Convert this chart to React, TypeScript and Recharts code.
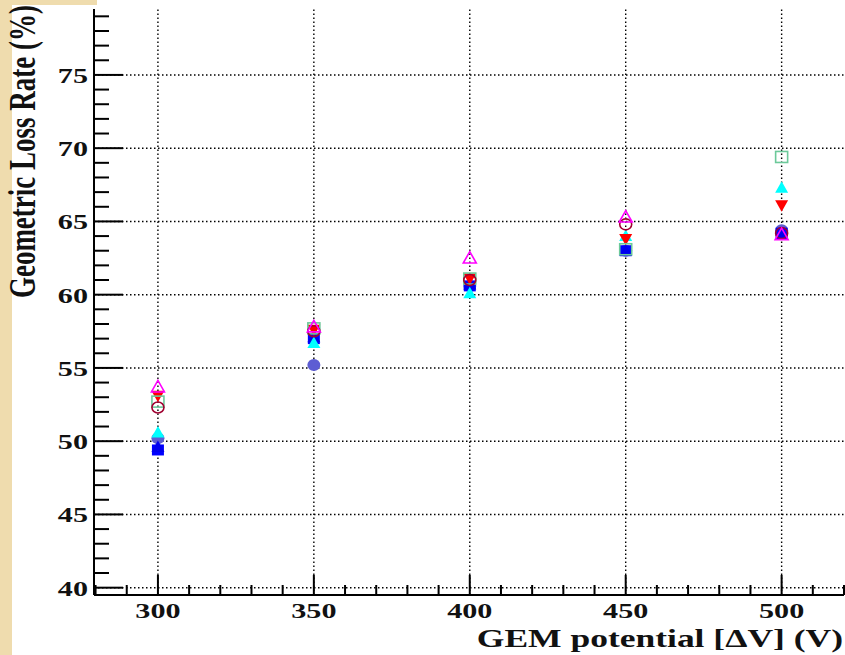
import { ScatterChart, Scatter, XAxis, YAxis, ReferenceLine } from 'recharts'

// GEM potential (V)
const potentials = [300, 350, 400, 450, 500]

// geometric loss rate (%) per marker style
const slateCircle = [50.2, 55.2, 60.6, 63.0, 64.4]
const blueSquare = [49.4, 57.0, 60.6, 63.0, 64.2]
const blueTriangle = [49.6, 57.1, 60.7, 63.0, 64.1]
const cyanTriangle = [50.6, 56.7, 60.1, 64.0, 67.3]
const redTriangleDown = [53.1, 57.6, 61.1, 63.8, 66.1]
const greenSquare = [52.7, 57.7, 61.1, 63.1, 69.4]
const darkRedCircle = [52.3, 57.5, 61.0, 64.8, 64.2]
const magentaTriangle = [53.7, 57.8, 62.5, 65.3, 64.1]

const xTicks = [280, 290, 300, 310, 320, 330, 340, 350, 360, 370, 380, 390, 400, 410, 420, 430, 440, 450, 460, 470, 480, 490, 500, 510, 520]
const xMajor = [300, 350, 400, 450, 500]
const yTicks = [40, 41, 42, 43, 44, 45, 46, 47, 48, 49, 50, 51, 52, 53, 54, 55, 56, 57, 58, 59, 60, 61, 62, 63, 64, 65, 66, 67, 68, 69, 70, 71, 72, 73, 74, 75, 76, 77, 78, 79]
const yMajor = [40, 45, 50, 55, 60, 65, 70, 75]

const FONT = '"Liberation Serif", "DejaVu Serif", serif'
// the source image is stretched sideways, so the text is too
const STRETCH = 1.37

const toPoints = (vals: number[]) => potentials.map((p, i) => ({ x: p, y: vals[i] }))

function XTick({ x, y, payload }: any) {
  const major = payload.value % 50 === 0
  return (
    <g>
      <line x1={x} x2={x} y1={y} y2={y - (major ? 20 : 10)} stroke="#000" strokeWidth={2} />
      {major && (
        <text
          transform={`translate(${x},${y + 23}) scale(${STRETCH},1)`}
          textAnchor="middle"
          fontFamily={FONT}
          fontWeight="bold"
          fontSize={22}
          fill="#111"
        >
          {payload.value}
        </text>
      )}
    </g>
  )
}

function TopTick({ x, y, payload }: any) {
  const major = payload.value % 50 === 0
  return <line x1={x} x2={x} y1={y} y2={y + (major ? 20 : 10)} stroke="#000" strokeWidth={2} />
}

function YTick({ x, y, payload }: any) {
  const major = payload.value % 5 === 0
  return (
    <g>
      <line x1={x} x2={x + (major ? 29 : 15)} y1={y} y2={y} stroke="#000" strokeWidth={2} />
      {major && (
        <text
          transform={`translate(${x - 6},${y + 8}) scale(${STRETCH},1)`}
          textAnchor="end"
          fontFamily={FONT}
          fontWeight="bold"
          fontSize={22}
          fill="#111"
        >
          {payload.value}
        </text>
      )}
    </g>
  )
}

type Kind = 'circle' | 'openCircle' | 'square' | 'openSquare' | 'triUp' | 'openTriUp' | 'triDown'

function marker(kind: Kind, color: string) {
  return (props: any) => {
    const { cx, cy } = props
    if (cx == null || cy == null) return <g />
    switch (kind) {
      case 'circle':
        return <ellipse cx={cx} cy={cy} rx={6.5} ry={6} fill={color} />
      case 'openCircle':
        return <ellipse cx={cx} cy={cy} rx={6} ry={5.5} fill="none" stroke={color} strokeWidth={1.6} />
      case 'square':
        return <rect x={cx - 6} y={cy - 5.5} width={12} height={11} fill={color} />
      case 'openSquare':
        return <rect x={cx - 6} y={cy - 5.5} width={12} height={11} fill="none" stroke={color} strokeWidth={1.6} />
      case 'triUp':
        return <polygon points={`${cx},${cy - 6.5} ${cx - 6.5},${cy + 5} ${cx + 6.5},${cy + 5}`} fill={color} />
      case 'openTriUp':
        return <polygon points={`${cx},${cy - 6.5} ${cx - 6.5},${cy + 5} ${cx + 6.5},${cy + 5}`} fill="none" stroke={color} strokeWidth={1.6} />
      case 'triDown':
        return <polygon points={`${cx},${cy + 6.5} ${cx - 6.5},${cy - 5} ${cx + 6.5},${cy - 5}`} fill={color} />
    }
  }
}

const series: { name: string; vals: number[]; kind: Kind; color: string }[] = [
  { name: 'slateCircle', vals: slateCircle, kind: 'circle', color: '#5d5dd3' },
  { name: 'blueSquare', vals: blueSquare, kind: 'square', color: '#0000ff' },
  { name: 'blueTriangle', vals: blueTriangle, kind: 'triUp', color: '#0000ee' },
  { name: 'cyanTriangle', vals: cyanTriangle, kind: 'triUp', color: '#00ffff' },
  { name: 'redTriangleDown', vals: redTriangleDown, kind: 'triDown', color: '#ff0000' },
  { name: 'greenSquare', vals: greenSquare, kind: 'openSquare', color: '#6cc99a' },
  { name: 'darkRedCircle', vals: darkRedCircle, kind: 'openCircle', color: '#a00030' },
  { name: 'magentaTriangle', vals: magentaTriangle, kind: 'openTriUp', color: '#ff00ff' },
]

export default function App() {
  return (
    <div style={{ position: 'relative', width: 845, height: 655, background: '#fff', overflow: 'hidden' }}>
      <style>{'body{margin:0}'}</style>
      <div style={{ position: 'absolute', left: 0, top: 0, width: 12, height: 655, background: '#efdcae' }} />
      <div style={{ position: 'absolute', left: 0, top: 0, width: 97, height: 5, background: '#efdcae' }} />
      <ScatterChart width={845} height={655} margin={{ top: 9, right: 1, bottom: 0, left: 0 }}>
        <XAxis
          xAxisId={0}
          type="number"
          dataKey="x"
          domain={[279.5, 520]}
          ticks={xTicks}
          interval={0}
          allowDataOverflow
          height={60}
          tickSize={0}
          tickMargin={0}
          tickLine={false}
          axisLine={{ stroke: '#000', strokeWidth: 2 }}
          tick={<XTick />}
        />
        <XAxis
          xAxisId="top"
          orientation="top"
          type="number"
          dataKey="x"
          domain={[279.5, 520]}
          ticks={xTicks}
          interval={0}
          allowDataOverflow
          height={0}
          tickSize={0}
          tickMargin={0}
          tickLine={false}
          axisLine={{ stroke: '#000', strokeWidth: 2 }}
          tick={<TopTick />}
        />
        <YAxis
          yAxisId={0}
          type="number"
          dataKey="y"
          domain={[39.5, 79.5]}
          ticks={yTicks}
          interval={0}
          allowDataOverflow
          width={94}
          tickSize={0}
          tickMargin={0}
          tickLine={false}
          axisLine={{ stroke: '#000', strokeWidth: 2 }}
          tick={<YTick />}
        />
        <YAxis
          yAxisId="right"
          orientation="right"
          type="number"
          domain={[39.5, 79.5]}
          allowDataOverflow
          width={0}
          tick={false}
          tickLine={false}
          axisLine={{ stroke: '#000', strokeWidth: 2 }}
        />
        {xMajor.map(v => (
          <ReferenceLine key={`gx${v}`} x={v} stroke="#000" strokeWidth={1.4} strokeDasharray="1.5 2.5" />
        ))}
        {yMajor.map(v => (
          <ReferenceLine key={`gy${v}`} y={v} stroke="#000" strokeWidth={1.4} strokeDasharray="1.5 2.5" />
        ))}
        {series.map(s => (
          <Scatter
            key={s.name}
            name={s.name}
            data={toPoints(s.vals)}
            fill={s.color}
            shape={marker(s.kind, s.color)}
            isAnimationActive={false}
          />
        ))}
      </ScatterChart>
      <svg width={845} height={655} style={{ position: 'absolute', left: 0, top: 0, pointerEvents: 'none' }}>
        <text
          transform={`translate(35, 5) scale(${STRETCH},1) rotate(-90)`}
          textAnchor="end"
          fontFamily={FONT}
          fontWeight="bold"
          fontSize={27}
          fill="#111"
        >
          Geometric Loss Rate (%)
        </text>
        <text
          transform="translate(843, 647) scale(1.42,1)"
          textAnchor="end"
          fontFamily={FONT}
          fontWeight="bold"
          fontSize={25}
          fill="#111"
        >
          GEM potential [ΔV] (V)
        </text>
      </svg>
    </div>
  )
}
